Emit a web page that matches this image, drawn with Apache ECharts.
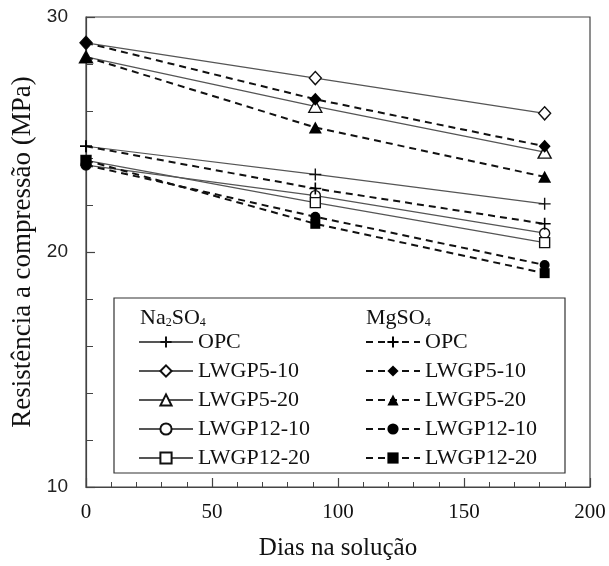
<!DOCTYPE html>
<html>
<head>
<meta charset="utf-8">
<script src="https://cdn.jsdelivr.net/npm/echarts@6/dist/echarts.min.js"></script>
<style>html,body{margin:0;padding:0;background:#fff;}#c{width:609px;height:566px;}</style>
</head>
<body>
<div id="c"></div>
<script>
// Data
var days = [0, 91, 182];
var seriesNames = ['OPC', 'LWGP5-10', 'LWGP5-20', 'LWGP12-10', 'LWGP12-20'];
var na_OPC = [24.5, 23.3, 22.05];
var na_LWGP5_10 = [28.9, 27.4, 25.9];
var na_LWGP5_20 = [28.3, 26.2, 24.25];
var na_LWGP12_10 = [23.7, 22.4, 20.8];
var na_LWGP12_20 = [23.9, 22.1, 20.4];
var mg_OPC = [24.5, 22.7, 21.2];
var mg_LWGP5_10 = [28.9, 26.5, 24.5];
var mg_LWGP5_20 = [28.3, 25.3, 23.2];
var mg_LWGP12_10 = [23.7, 21.5, 19.45];
var mg_LWGP12_20 = [23.9, 21.2, 19.1];
var yTicks = [10, 20, 30];
var xTicks = [0, 50, 100, 150, 200];

var naData = [na_OPC, na_LWGP5_10, na_LWGP5_20, na_LWGP12_10, na_LWGP12_20];
var mgData = [mg_OPC, mg_LWGP5_10, mg_LWGP5_20, mg_LWGP12_10, mg_LWGP12_20];

var plus = 'path://M0,6 L12,6 M6,0 L6,12';
var symbols = [plus, 'diamond', 'triangle', 'circle', 'rect'];
var symSizes = [12, [12, 13], [13, 12], 10, 10];

function pts(arr) { return days.map(function (d, i) { return [d, arr[i]]; }); }

var series = [];
naData.forEach(function (arr, i) {
  series.push({
    name: seriesNames[i] + '|Na',
    type: 'line',
    data: pts(arr),
    symbol: symbols[i],
    symbolSize: symSizes[i],
    lineStyle: { color: '#555', width: 1.2, type: 'solid' },
    itemStyle: { color: i === 0 ? '#000' : '#fff', borderColor: '#111', borderWidth: 1.4 },
    z: 3,
    animation: false
  });
});
mgData.forEach(function (arr, i) {
  series.push({
    name: seriesNames[i] + '|Mg',
    type: 'line',
    data: pts(arr),
    symbol: symbols[i],
    symbolSize: symSizes[i],
    lineStyle: { color: '#111', width: 2, type: [7, 5] },
    itemStyle: { color: '#000', borderColor: '#000', borderWidth: i === 0 ? 1.6 : 0 },
    z: 4,
    animation: false
  });
});

var legendText = { fontFamily: 'Liberation Serif', fontSize: 22, color: '#111', lineHeight: 22 };
function fmt(n) { return n.split('|')[0]; }

var chart = echarts.init(document.getElementById('c'), null, { renderer: 'canvas' });
chart.setOption({
  backgroundColor: '#fff',
  animation: false,
  grid: { left: 86, right: 19, top: 17, bottom: 79, show: false },
  xAxis: {
    type: 'value', min: 0, max: 200, interval: 50,
    name: 'Dias na solução', nameLocation: 'middle', nameGap: 49,
    nameTextStyle: { fontFamily: 'Liberation Serif', fontSize: 25, color: '#111' },
    axisLine: { show: true, onZero: false, lineStyle: { color: '#444', width: 1.2 } },
    axisTick: { show: true, inside: true, length: 9, lineStyle: { color: '#444', width: 1.2 } },
    minorTick: { show: true, splitNumber: 5, length: 5, lineStyle: { color: '#444', width: 1 } },
    axisLabel: { margin: 15, fontFamily: 'Liberation Serif', fontSize: 21, color: '#111',
      formatter: function (v) { return xTicks.indexOf(v) >= 0 ? String(v) : ''; } },
    splitLine: { show: false }
  },
  yAxis: {
    type: 'value', min: 10, max: 30, interval: 10,
    name: 'Resistência a compressão (MPa)', nameLocation: 'middle', nameGap: 48,
    nameTextStyle: { fontFamily: 'Liberation Serif', fontSize: 27, color: '#111' },
    axisLine: { show: true, onZero: false, lineStyle: { color: '#444', width: 1.2 } },
    axisTick: { show: true, inside: true, length: 9, lineStyle: { color: '#444', width: 1.2 } },
    minorTick: { show: true, splitNumber: 5, length: 7, lineStyle: { color: '#444', width: 1 } },
    axisLabel: { margin: 18, fontFamily: 'Liberation Sans', fontSize: 19, color: '#222',
      formatter: function (v) { return yTicks.indexOf(v) >= 0 ? String(v) : ''; } },
    splitLine: { show: false }
  },
  legend: [
    {
      data: seriesNames.map(function (n) { return n + '|Na'; }),
      orient: 'vertical', left: 138, top: 331,
      itemWidth: 54, itemHeight: 14, itemGap: 7,
      formatter: fmt, textStyle: legendText, selectedMode: false,
      padding: 0
    },
    {
      data: seriesNames.map(function (n) { return n + '|Mg'; }),
      orient: 'vertical', left: 365, top: 331,
      itemWidth: 54, itemHeight: 14, itemGap: 7,
      formatter: fmt, textStyle: legendText, selectedMode: false,
      padding: 0
    }
  ],
  graphic: [
    { type: 'rect', shape: { x: 114, y: 298, width: 451, height: 175 }, style: { fill: '#fff', stroke: '#333', lineWidth: 1.2 }, z: 0, silent: true },
    { type: 'rect', shape: { x: 86, y: 17, width: 504, height: 470 }, style: { fill: 'none', stroke: '#444', lineWidth: 1.2 }, z: 1, silent: true },
    { type: 'text', left: 140, top: 307, z: 10, style: {
      text: '{m|Na}{s|2}{m|SO}{s|4}',
      rich: { m: { fontFamily: 'Liberation Serif', fontSize: 22, fill: '#111', verticalAlign: 'bottom', lineHeight: 24 },
              s: { fontFamily: 'Liberation Serif', fontSize: 12, fill: '#111', verticalAlign: 'bottom', lineHeight: 24 } } } },
    { type: 'text', left: 366, top: 307, z: 10, style: {
      text: '{m|MgSO}{s|4}',
      rich: { m: { fontFamily: 'Liberation Serif', fontSize: 22, fill: '#111', verticalAlign: 'bottom', lineHeight: 24 },
              s: { fontFamily: 'Liberation Serif', fontSize: 12, fill: '#111', verticalAlign: 'bottom', lineHeight: 24 } } } }
  ],
  series: series
});
</script>
</body>
</html>
